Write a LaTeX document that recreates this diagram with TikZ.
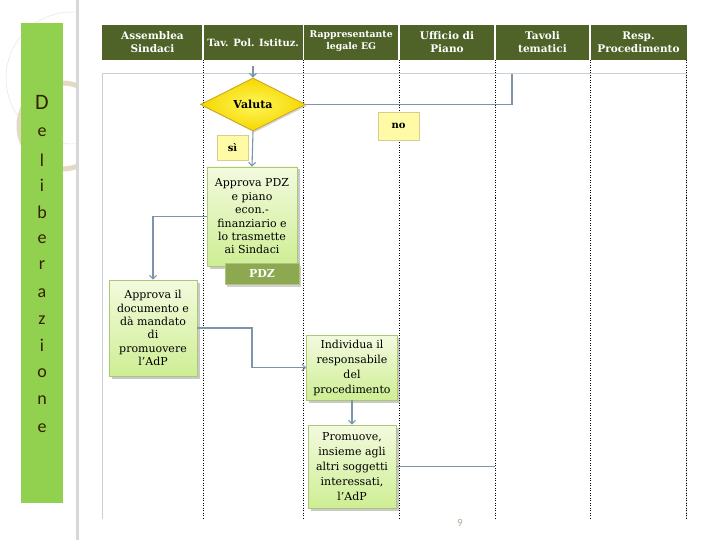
\documentclass[tikz,border=0pt]{standalone}
\usepackage{fontspec}
\setmainfont{DejaVu Serif}
\newfontfamily\barfont{Carlito}
\usetikzlibrary{shapes.geometric,arrows.meta,shadows}
\definecolor{hdrgreen}{RGB}{79,98,40}
\definecolor{bargreen}{RGB}{146,208,80}
\definecolor{barletter}{RGB}{50,34,0}
\definecolor{lanegrey}{RGB}{200,208,216}
\definecolor{connblue}{RGB}{125,148,170}
\definecolor{boxtop}{RGB}{243,250,222}
\definecolor{boxbot}{RGB}{206,238,148}
\definecolor{boxedge}{RGB}{170,200,120}
\definecolor{labfill}{RGB}{255,250,165}
\definecolor{labedge}{RGB}{215,205,140}
\definecolor{diaouter}{RGB}{245,215,0}
\definecolor{diainner}{RGB}{255,246,90}
\definecolor{diaedge}{RGB}{205,168,30}
\definecolor{tabgreen}{RGB}{140,168,80}
\definecolor{decobeige}{RGB}{228,218,195}
\definecolor{pagenum}{RGB}{180,170,150}
\definecolor{sidegrey}{RGB}{215,215,215}
\begin{document}
\begin{tikzpicture}[x=1pt,y=-1pt,
  procbox/.style={draw=boxedge, line width=0.8pt, top color=boxtop, bottom color=boxbot,
    align=center, inner sep=0pt, text=black,
    drop shadow={shadow xshift=2.5pt, shadow yshift=-2.5pt, opacity=0.35, fill=black!60}},
  tightfont/.style={font=\fontsize{11}{13.4}\selectfont},
  loosefont/.style={font=\fontsize{11}{15}\selectfont},
  hdr/.style={text=white, align=center, inner sep=0pt, font=\bfseries\fontsize{10.5}{13}\selectfont},
  lab/.style={draw=labedge, fill=labfill, line width=0.6pt, inner sep=0pt, font=\bfseries\fontsize{10}{12}\selectfont},
  barletter/.style={text=barletter, anchor=base, inner sep=0pt, font=\barfont\fontsize{18}{18}\selectfont},
  connline/.style={draw=connblue, line width=1.1pt},
  connarrow/.style={connline, -{Straight Barb[length=3.5pt,width=7pt]}},
  lanedot/.style={line width=0.8pt, dash pattern=on 1pt off 1.5pt, black}
]
\useasboundingbox (0,0) rectangle (720,540);
\fill[white] (0,0) rectangle (720,540);

% background decoration
\begin{scope}
  \clip (0,0) rectangle (76,540);
  \draw[decobeige, line width=5pt] (62,126) circle[radius=43];
  \draw[decobeige!70, line width=0.5pt] (72,78) circle[radius=66];
\end{scope}
\fill[sidegrey] (76,0) rectangle (79,540);

% green side bar
\fill[bargreen] (21,23) rectangle (63,503);
\node[barletter, font=\barfont\fontsize{22}{22}\selectfont] (l1) at (42,109.5) {D};
\foreach \ch/\yy [count=\i from 2] in {e/136.5, l/166.5, i/192, b/218.5, e/243.7, r/269.4, a/297.8, z/324, i/351.4, o/377.3, n/404.7, e/432}
  \node[barletter] (l\i) at (42,\yy) {\ch};

% header
\fill[hdrgreen] (102,25) rectangle (687,60);
\foreach \xx in {203,303.5,399,495,590}
  \draw[white, line width=1.2pt] (\xx,25) -- (\xx,60);
\node[hdr] (h1) at (152.5,42.5) {Assemblea\\Sindaci};
\node[hdr, font=\bfseries\fontsize{10}{12}\selectfont] (h2) at (253.2,42.5) {Tav. Pol. Istituz.};
\node[hdr, font=\bfseries\fontsize{9.3}{12}\selectfont] (h3) at (351.2,41.5) {Rappresentante\\legale EG};
\node[hdr] (h4) at (447,42.5) {Ufficio di\\Piano};
\node[hdr] (h5) at (542.5,42.5) {Tavoli\\tematici};
\node[hdr] (h6) at (638.5,42.5) {Resp.\\Procedimento};

% lanes
\draw[lanegrey, line width=1pt] (102.5,519) -- (102.5,74) -- (686,74) -- (686,519);
\foreach \xx in {203,303.5,399,495,590,686}
  \draw[lanedot] (\xx,60) -- (\xx,519);

% nodes
\node[diamond, draw=diaedge, line width=0.9pt, inner color=diainner, outer color=diaouter,
      minimum width=105pt, minimum height=53pt, inner sep=0pt,
      font=\bfseries\fontsize{11}{13}\selectfont,
      drop shadow={shadow xshift=1.5pt, shadow yshift=-1.5pt, opacity=0.25, fill=black!60}]
      (dia) at (253,104.5) {Valuta};
\node[lab, minimum width=41pt, minimum height=28pt] (no) at (398.5,126) {no};
\node[lab, minimum width=31pt, minimum height=25pt] (si) at (232.5,147.5) {sì};

\node[procbox, tightfont, minimum width=90pt, minimum height=99pt] (pdz) at (252,216.5)
  {Approva PDZ\\e piano\\econ.-\\finanziario e\\lo trasmette\\ai Sindaci};
\node[fill=tabgreen, draw=tabgreen!70!white, line width=0.8pt, text=white, inner sep=0pt,
      minimum width=74pt, minimum height=21pt, font=\bfseries\fontsize{11}{13}\selectfont,
      drop shadow={shadow xshift=1.5pt, shadow yshift=-2.5pt, opacity=0.3, fill=black!60}]
      (pdztab) at (262,273.5) {PDZ};

\node[procbox, tightfont, minimum width=88pt, minimum height=96pt] (doc) at (153,328)
  {Approva il\\documento e\\dà mandato\\di\\promuovere\\l'AdP};
\node[procbox, loosefont, minimum width=91pt, minimum height=65pt] (ind) at (352,367.5)
  {Individua il\\responsabile\\del\\procedimento};
\node[procbox, loosefont, minimum width=88pt, minimum height=83pt] (prom) at (352,466.5)
  {Promuove,\\insieme agli\\altri soggetti\\interessati,\\l'AdP};

% connectors
\coordinate (inTop) at (253,66);
\coordinate (noTop) at (512,74.5);
\coordinate (bend) at (252,350);
\coordinate (promEnd) at (495,466.5);
\draw[connarrow] (inTop) -- (dia.north);
\draw[connline] (dia.east) -| (noTop);
\draw[connarrow] (dia.south) -- (pdz.north);
\draw[connarrow] (pdz.west) -| (doc.north);
\draw[connarrow] (doc.east) -| (bend) |- (ind.west);
\draw[connarrow] (ind.south) -- (prom.north);
\draw[connline] (prom.east) -- (promEnd);

% page number
\node[text=pagenum, inner sep=0pt, font=\barfont\fontsize{11}{11}\selectfont] (pnum) at (460,523) {9};
\end{tikzpicture}
\end{document}
